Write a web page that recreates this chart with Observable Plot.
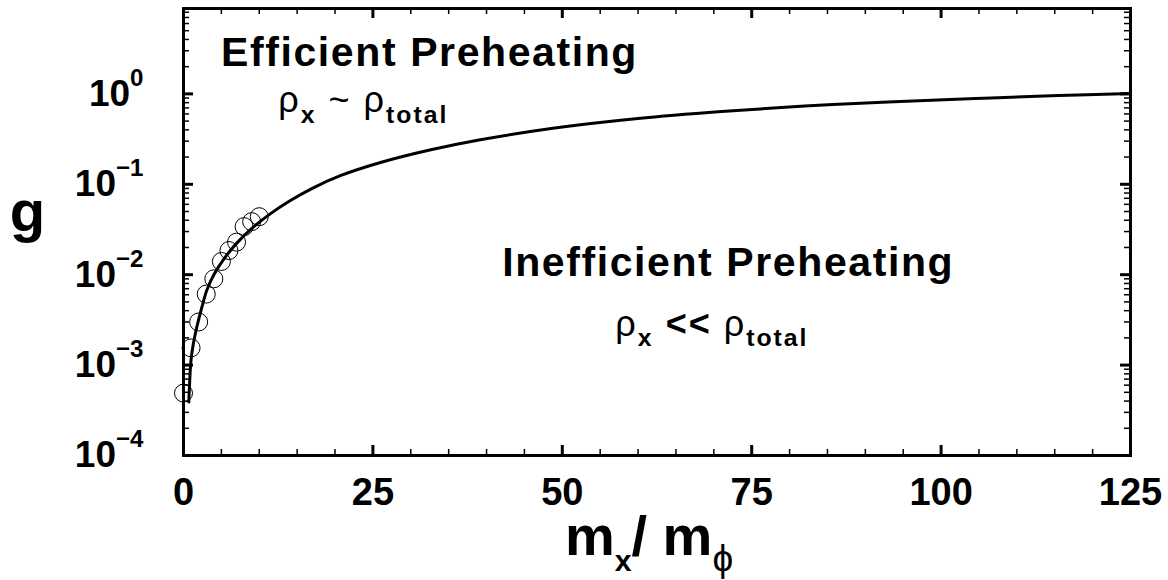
<!DOCTYPE html>
<html><head><meta charset="utf-8">
<script src="https://cdn.jsdelivr.net/npm/d3@7"></script>
<script src="https://cdn.jsdelivr.net/npm/@observablehq/plot@0.6"></script>
<style>html,body{margin:0;padding:0;background:#fff;}</style>
</head><body><div id="chart"></div>
<script>
// ---- data ----
const curveX = [0.7, 0.9, 1.0, 1.3, 1.75, 2.4, 3.1, 4.0, 5.3, 7.0, 9.2, 11.4, 14.0, 17.0, 20.7, 26.0, 32.5, 39.0, 49.0, 60.0, 71.0, 82.0, 93.0, 104.5, 115.5, 125.0];
const curveG = [3.9e-4, 9.0e-4, 1.15e-3, 1.72e-3, 2.62e-3, 4.3e-3, 6.8e-3, 0.0100, 0.0148, 0.0222, 0.0335, 0.0468, 0.0653, 0.0903, 0.1245, 0.1742, 0.2395, 0.309, 0.4196, 0.5346, 0.6383, 0.7345, 0.8136, 0.8895, 0.960, 1.01];
const pointX = [0, 1, 2, 3, 4, 5, 6, 7, 8, 9, 10];
const pointG = [4.9e-4, 1.55e-3, 3.0e-3, 6.1e-3, 9.0e-3, 0.0140, 0.0185, 0.0229, 0.034, 0.0386, 0.0438];
const xMajorTicks = [0, 25, 50, 75, 100, 125];
const xMinorTicks = [5, 10, 15, 20, 30, 35, 40, 45, 55, 60, 65, 70, 80, 85, 90, 95, 105, 110, 115, 120];
const yMajorTicks = [1e-4, 1e-3, 1e-2, 1e-1, 1];
const yTickLabels = ["10^{−4}", "10^{−3}", "10^{−2}", "10^{−1}", "10^{0}"];
const yMinorMultipliers = [2, 3, 4, 5, 6, 7, 8, 9];
const regionLabels = ["Efficient Preheating", "Inefficient Preheating"];
const densityLabels = ["ρ_{x} ~ ρ_{total}", "ρ_{x} *{<<} ρ_{total}"];
const xLabel = "m_{x}/ m_~{ϕ}";
const yLabel = "g";

// ---- layout ----
const W = 1168, H = 580, mL = 183, mR = 38, mT = 8, mB = 125;
const frameW = W - mL - mR, frameH = H - mT - mB;
const yDomain = [1e-4, 8.8];

const yMinorTicks = [];
yMajorTicks.forEach(d => yMinorMultipliers.forEach(k => { const v = k * d; if (v <= yDomain[1]) yMinorTicks.push(v); }));

const curve = curveX.map((x, i) => ({x, g: curveG[i]}));
const pts = pointX.map((x, i) => ({x, g: pointG[i]}));

const svg = Plot.plot({
  width: W, height: H,
  marginLeft: mL, marginRight: mR, marginTop: mT, marginBottom: mB,
  style: {fontFamily: "'Liberation Sans', Arial, Helvetica, sans-serif", background: "#fff", color: "#000"},
  x: {domain: [0, 125]},
  y: {type: "log", domain: yDomain},
  marks: [
    Plot.line(curve, {x: "x", y: "g", stroke: "#000", strokeWidth: 3, curve: "catmull-rom"}),
    Plot.dot(pts, {x: "x", y: "g", r: 9, stroke: "#000", strokeWidth: 1, fill: "none"}),
    Plot.text([regionLabels[0]], {x: 4.95, y: 2.81, text: d => d, textAnchor: "start", lineAnchor: "middle", fontSize: 41, fontWeight: "bold", ariaDescription: "region"}),
    Plot.text([regionLabels[1]], {x: 42.06, y: 0.01368, text: d => d, textAnchor: "start", lineAnchor: "middle", fontSize: 41, fontWeight: "bold", ariaDescription: "region"}),
    Plot.text([densityLabels[0]], {x: 12.5, y: 0.835, text: d => d, textAnchor: "start", lineAnchor: "middle", fontSize: 36, ariaDescription: "density"}),
    Plot.text([densityLabels[1]], {x: 57.0, y: 2.85e-3, text: d => d, textAnchor: "start", lineAnchor: "middle", fontSize: 36, ariaDescription: "density"}),
    Plot.text([xLabel], {text: d => d, frameAnchor: "bottom", textAnchor: "middle", lineAnchor: "middle", dx: -8, dy: 82, fontSize: 56, fontWeight: "bold", ariaDescription: "xlabel"}),
    Plot.text([yLabel], {text: d => d, frameAnchor: "left", textAnchor: "middle", lineAnchor: "middle", dx: -156, dy: -20, fontSize: 58, fontWeight: "bold", ariaDescription: "ylabel"}),
    Plot.axisX({ticks: xMajorTicks, tickSize: 0, tickPadding: 23, fontSize: 38, fontWeight: "bold", label: null}),
    Plot.axisY({ticks: yMajorTicks, tickFormat: d => yTickLabels[yMajorTicks.indexOf(d)], tickSize: 0, tickPadding: 40, fontSize: 37, fontWeight: "bold", label: null}),
    // inward ticks on all four sides
    Plot.tickX(xMajorTicks, {x: d => d, insetTop: frameH - 10, strokeWidth: 3}),
    Plot.tickX(xMajorTicks, {x: d => d, insetBottom: frameH - 10, strokeWidth: 3}),
    Plot.tickX(xMinorTicks, {x: d => d, insetTop: frameH - 6, strokeWidth: 1.5}),
    Plot.tickX(xMinorTicks, {x: d => d, insetBottom: frameH - 6, strokeWidth: 1.5}),
    Plot.tickY(yMajorTicks, {y: d => d, insetRight: frameW - 10, strokeWidth: 3}),
    Plot.tickY(yMajorTicks, {y: d => d, insetLeft: frameW - 10, strokeWidth: 3}),
    Plot.tickY(yMinorTicks, {y: d => d, insetRight: frameW - 6, strokeWidth: 1.5}),
    Plot.tickY(yMinorTicks, {y: d => d, insetLeft: frameW - 6, strokeWidth: 1.5}),
    Plot.frame({stroke: "#000", strokeWidth: 3})
  ]
});
document.getElementById("chart").appendChild(svg);

// ---- rich text: sub/superscripts as tspans ----
const richSpecs = {
  "y-axis tick label": {supScale: 0.65, supShift: -0.54},
  "density": {subScale: 0.69, subShift: 0.28},
  "xlabel": {subScale: 0.54, subShift: 0.27, altScale: 0.66}
};
const letterSpacing = {"region": "1.6px", "density": "2px"};
svg.querySelectorAll("text").forEach(el => {
  const gd = el.closest("[aria-description]");
  const ga = el.closest("[aria-label]");
  const key = gd ? gd.getAttribute("aria-description") : (ga ? ga.getAttribute("aria-label") : "");
  if (letterSpacing[key]) el.style.letterSpacing = letterSpacing[key];
  const s = el.textContent;
  if (!/(\^|_~?|\*)\{/.test(s)) return;
  const spec = Object.assign({subScale: 0.68, subShift: 0.28, supScale: 0.65, supShift: -0.54, altScale: 0.68}, richSpecs[key] || {});
  const fs = parseFloat(getComputedStyle(el).fontSize);
  const parts = s.split(/(\^\{[^}]*\}|_~?\{[^}]*\}|\*\{[^}]*\})/).filter(p => p);
  el.textContent = "";
  let offset = 0;
  parts.forEach(p => {
    const ts = document.createElementNS("http://www.w3.org/2000/svg", "tspan");
    let m, shift = 0, size = null, weight = null;
    if ((m = p.match(/^\^\{(.*)\}$/))) { p = m[1]; shift = spec.supShift * fs; size = spec.supScale * fs; }
    else if ((m = p.match(/^_~\{(.*)\}$/))) { p = m[1]; shift = spec.subShift * fs; size = spec.altScale * fs; weight = "normal"; }
    else if ((m = p.match(/^_\{(.*)\}$/))) { p = m[1]; shift = spec.subShift * fs; size = spec.subScale * fs; weight = "bold"; }
    else if ((m = p.match(/^\*\{(.*)\}$/))) { p = m[1]; weight = "bold"; }
    const dy = shift - offset;
    if (dy) ts.setAttribute("dy", dy.toFixed(1));
    offset = shift;
    if (size) ts.setAttribute("font-size", size.toFixed(1));
    if (weight) ts.setAttribute("font-weight", weight);
    ts.textContent = p;
    el.appendChild(ts);
  });
});
</script>
</body></html>
